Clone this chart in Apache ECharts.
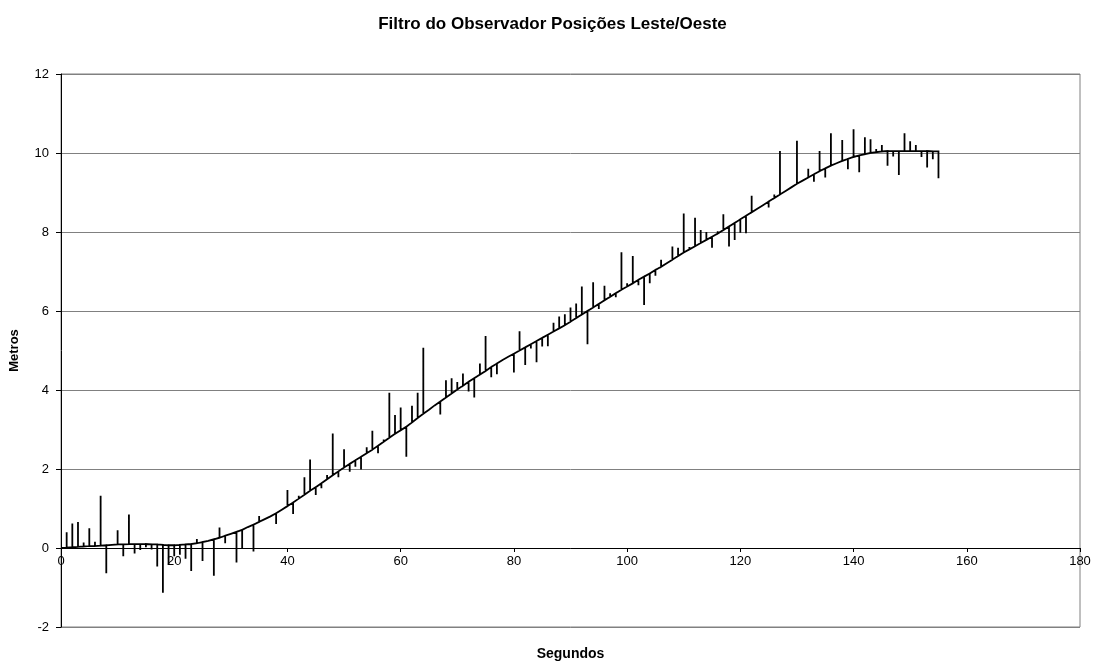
<!DOCTYPE html>
<html>
<head>
<meta charset="utf-8">
<title>Filtro do Observador Posições Leste/Oeste</title>
<script src="https://cdn.jsdelivr.net/npm/echarts@6/dist/echarts.min.js"></script>
<style>
  html, body { margin: 0; padding: 0; background: #ffffff; }
  #chart { width: 1105px; height: 667px; }
</style>
</head>
<body>
<div id="chart"></div>
<script>
// Time of each sample (seconds)
const seconds = [];
for (let s = 0; s <= 155; s++) seconds.push(s);

// Observer (filtered) east/west position, metres
const estimate = [
  0.00, 0.01, 0.02, 0.03, 0.04, 0.05, 0.05, 0.06, 0.07, 0.08,
  0.09, 0.09, 0.10, 0.10, 0.10, 0.10, 0.09, 0.09, 0.08, 0.07,
  0.07, 0.08, 0.09, 0.10, 0.12, 0.15, 0.18, 0.22, 0.26, 0.31,
  0.36, 0.41, 0.46, 0.53, 0.59, 0.66, 0.73, 0.80, 0.88, 0.97,
  1.06, 1.15, 1.25, 1.35, 1.45, 1.54, 1.64, 1.74, 1.84, 1.94,
  2.04, 2.13, 2.22, 2.31, 2.40, 2.49, 2.59, 2.69, 2.79, 2.89,
  2.98, 3.07, 3.18, 3.29, 3.40, 3.50, 3.61, 3.71, 3.81, 3.91,
  4.01, 4.11, 4.21, 4.30, 4.39, 4.48, 4.58, 4.67, 4.76, 4.84,
  4.92, 5.00, 5.08, 5.16, 5.24, 5.32, 5.40, 5.48, 5.56, 5.64,
  5.73, 5.82, 5.91, 6.00, 6.09, 6.18, 6.27, 6.36, 6.45, 6.54,
  6.62, 6.70, 6.79, 6.87, 6.95, 7.04, 7.12, 7.21, 7.30, 7.39,
  7.48, 7.56, 7.64, 7.72, 7.80, 7.88, 7.96, 8.05, 8.14, 8.23,
  8.32, 8.41, 8.50, 8.59, 8.68, 8.77, 8.86, 8.95, 9.04, 9.13,
  9.22, 9.30, 9.38, 9.46, 9.54, 9.61, 9.68, 9.74, 9.80, 9.85,
  9.90, 9.94, 9.97, 10.00, 10.02, 10.04, 10.05, 10.05, 10.05, 10.05,
  10.05, 10.05, 10.05, 10.05, 10.04, 10.04
];

// Raw position measurements, metres
const measured = [
  0.00, 0.40, 0.62, 0.66, 0.14, 0.50, 0.16, 1.32, -0.64, 0.10,
  0.45, -0.21, 0.85, -0.14, -0.05, 0.02, -0.04, -0.47, -1.13, -0.41,
  -0.21, -0.17, -0.27, -0.58, 0.23, -0.33, 0.17, -0.70, 0.52, 0.12,
  0.41, -0.37, 0.00, 0.58, -0.09, 0.81, 0.70, 0.85, 0.61, 1.02,
  1.47, 0.86, 1.32, 1.79, 2.24, 1.34, 1.51, 1.85, 2.90, 1.79,
  2.50, 1.93, 2.06, 1.99, 2.55, 2.97, 2.40, 2.75, 3.93, 3.37,
  3.56, 2.31, 3.60, 3.93, 5.07, 3.55, 3.65, 3.38, 4.25, 4.30,
  4.20, 4.42, 3.96, 3.81, 4.67, 5.37, 4.32, 4.40, 4.80, 4.88,
  4.44, 5.49, 4.63, 5.05, 4.70, 5.10, 5.11, 5.70, 5.86, 5.92,
  6.09, 6.19, 6.62, 5.16, 6.73, 6.05, 6.64, 6.45, 6.35, 7.49,
  6.70, 7.39, 6.65, 6.15, 6.70, 6.89, 7.30, 7.25, 7.63, 7.60,
  8.47, 7.62, 8.36, 8.05, 8.00, 7.60, 8.02, 8.45, 7.63, 7.80,
  7.98, 7.97, 8.92, 8.55, 8.70, 8.62, 8.95, 10.05, 9.05, 9.10,
  10.31, 9.29, 9.60, 9.27, 10.05, 9.38, 10.50, 9.71, 10.33, 9.59,
  10.60, 9.51, 10.40, 10.35, 10.10, 10.20, 9.68, 9.91, 9.44, 10.50,
  10.30, 10.20, 9.90, 9.63, 9.84, 9.36
];

// Axis ticks
const xTicks = { min: 0, max: 180, step: 20 };
const yTicks = { min: -2, max: 12, step: 2 };

// One continuous trace: at each sample the line jumps to the measurement and back
const trace = [];
seconds.forEach((s, i) => {
  trace.push([s, estimate[i]]);
  trace.push([s, measured[i]]);
  trace.push([s, estimate[i]]);
});

const font = 'Liberation Sans, Arial, Helvetica, sans-serif';
const chart = echarts.init(document.getElementById('chart'), null, { renderer: 'canvas' });

chart.setOption({
  animation: false,
  backgroundColor: '#ffffff',
  title: {
    text: 'Filtro do Observador Posições Leste/Oeste',
    left: 'center',
    top: 11,
    textStyle: { fontFamily: font, fontSize: 17, fontWeight: 'bold', color: '#000' }
  },
  grid: {
    left: 61, right: 25, top: 74, bottom: 40,
    containLabel: false,
    outerBoundsMode: 'none',
    show: true, borderColor: '#808080', borderWidth: 1
  },
  xAxis: {
    type: 'value',
    min: xTicks.min, max: xTicks.max, interval: xTicks.step,
    name: 'Segundos',
    nameLocation: 'middle',
    nameGap: 20,
    nameTextStyle: { fontFamily: font, fontSize: 14, fontWeight: 'bold', color: '#000' },
    axisLine: { show: true, onZero: true, lineStyle: { color: '#000', width: 1 } },
    axisTick: { show: true, length: 4, lineStyle: { color: '#000' } },
    // labels sit just under the zero line, which is 79px above the plot's bottom edge
    axisLabel: { fontFamily: font, fontSize: 13, color: '#000', margin: -72 },
    splitLine: { show: false }
  },
  yAxis: {
    type: 'value',
    min: yTicks.min, max: yTicks.max, interval: yTicks.step,
    name: 'Metros',
    nameLocation: 'middle',
    nameGap: 40,
    nameTextStyle: { fontFamily: font, fontSize: 13, fontWeight: 'bold', color: '#000' },
    axisLine: { show: true, onZero: false, lineStyle: { color: '#000', width: 1 } },
    axisTick: { show: true, length: 5, lineStyle: { color: '#000' } },
    axisLabel: { fontFamily: font, fontSize: 13, color: '#000', margin: 12 },
    splitLine: { show: true, lineStyle: { color: '#808080', width: 1 } }
  },
  series: [{
    type: 'line',
    data: trace,
    showSymbol: false,
    symbol: 'none',
    sampling: false,
    lineStyle: { color: '#000', width: 1.8, join: 'miter' },
    z: 3
  }]
});
</script>
</body>
</html>
